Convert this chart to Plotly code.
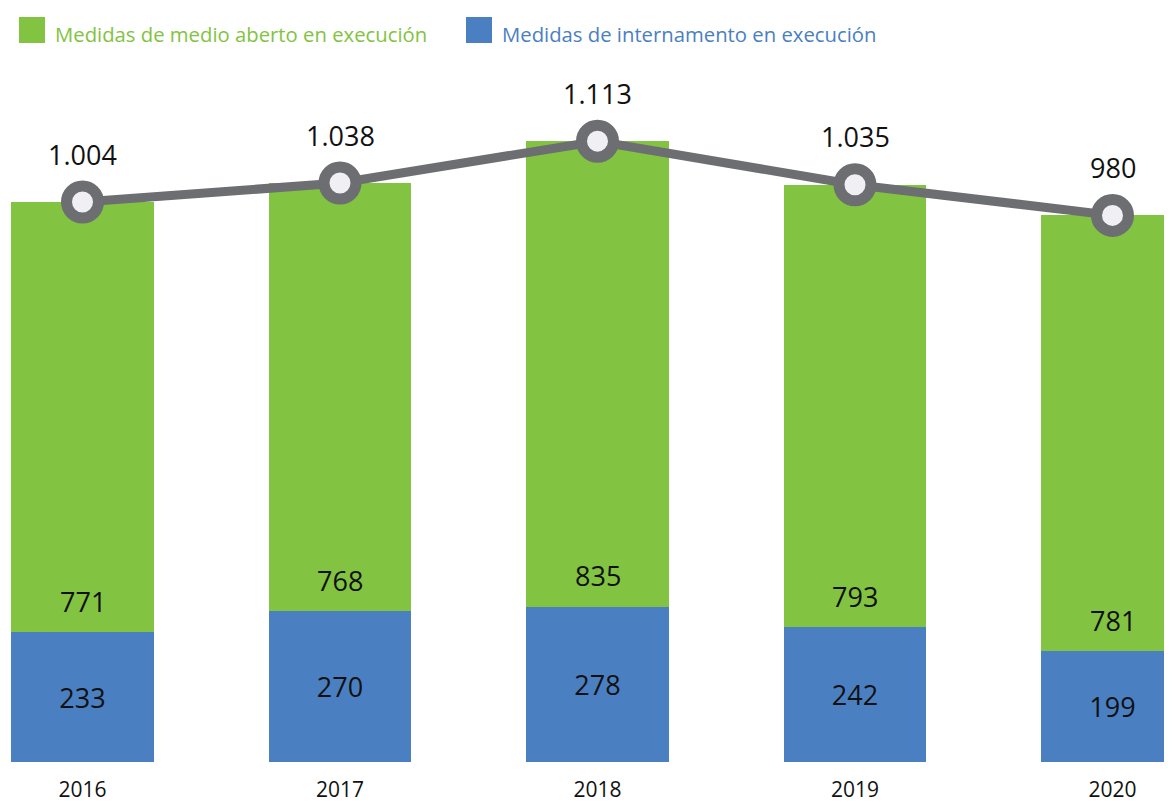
import plotly.graph_objects as go

years = ["2016", "2017", "2018", "2019", "2020"]
internamento = [233, 270, 278, 242, 199]
medio_aberto = [771, 768, 835, 793, 781]
totals = [1004, 1038, 1113, 1035, 980]

legend_labels = ["Medidas de medio aberto en execución", "Medidas de internamento en execución"]

GREEN = "#82C341"
BLUE = "#4A80C2"
GRAY = "#6D6E72"
FONT = "Open Sans"

# the page body has an 8px margin: size the figure so it fills the window
OFF = 8
W, H = 1172 - OFF, 803 - OFF
B = 41
PH = H - B  # plot height in px


def fmt(v):
    return f"{v:,}".replace(",", ".")


def py(p):
    # page pixel y (from top) -> paper y
    return (PH - (p - OFF)) / PH


def px(p):
    return (p - OFF) / W


fig = go.Figure()

fig.add_trace(go.Bar(
    x=years, y=internamento, name=legend_labels[1],
    marker=dict(color=BLUE, line=dict(width=0)),
    text=[fmt(v) for v in internamento], textposition="inside",
    insidetextanchor="middle", textangle=0,
    textfont=dict(family=FONT, size=27, color="#111111"),
    width=0.5553, showlegend=False, hoverinfo="skip",
))
fig.add_trace(go.Bar(
    x=years, y=medio_aberto, name=legend_labels[0],
    marker=dict(color=GREEN, line=dict(width=0)),
    width=0.5553, showlegend=False, hoverinfo="skip",
))
fig.add_trace(go.Scatter(
    x=years, y=totals, mode="lines+markers", name="Total",
    line=dict(color=GRAY, width=9),
    marker=dict(size=32, color="#F0F0F4", line=dict(color=GRAY, width=11)),
    showlegend=False, hoverinfo="skip",
))

annotations = []
for i, (b, g) in enumerate(zip(internamento, medio_aberto)):
    annotations.append(dict(x=i, y=b, xref="x", yref="y", text=fmt(g), showarrow=False,
                            yshift=31, font=dict(family=FONT, size=27, color="#111111")))
for i, t in enumerate(totals):
    annotations.append(dict(x=i, y=t, xref="x", yref="y", text=fmt(t), showarrow=False,
                            yshift=48, font=dict(family=FONT, size=27, color="#111111")))

# legend (manual)
shapes = []
leg_items = [(19, GREEN, legend_labels[0], 53), (466, BLUE, legend_labels[1], 500)]
for x0, col, lab, tx in leg_items:
    shapes.append(dict(type="rect", xref="paper", yref="paper",
                       x0=px(x0), x1=px(x0 + 26), y0=py(43), y1=py(17),
                       fillcolor=col, line=dict(width=0)))
    annotations.append(dict(xref="paper", yref="paper", x=px(tx), y=py(34),
                            xanchor="left", yanchor="middle", text=lab, showarrow=False,
                            font=dict(family=FONT, size=20.3, color=col)))

fig.update_layout(
    width=W, height=H,
    margin=dict(l=0, r=0, t=0, b=B, autoexpand=False),
    barmode="stack",
    plot_bgcolor="white", paper_bgcolor="white",
    font=dict(family=FONT, color="#111111"),
    xaxis=dict(type="category", range=[-74.5 / 257.5, (W - 74.5) / 257.5], showgrid=False,
               showline=False, zeroline=False, ticks="", automargin=False,
               tickfont=dict(family=FONT, size=21, color="#111111"),
               ticklabelstandoff=13),
    yaxis=dict(range=[0, PH / (560 / 1004)], visible=False, automargin=False),
    annotations=annotations, shapes=shapes,
    showlegend=False,
)

fig.write_html("out.html")
